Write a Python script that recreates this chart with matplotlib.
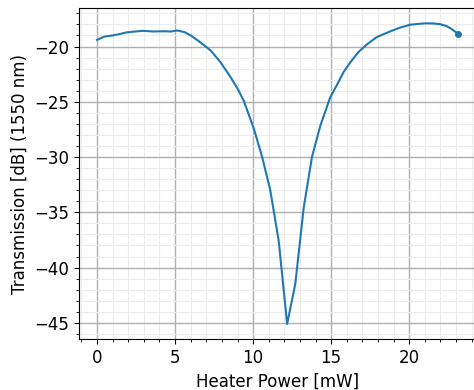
import numpy as np
import matplotlib
matplotlib.use("Agg")
import matplotlib.pyplot as plt
from matplotlib.ticker import AutoMinorLocator

# heater sweep
power = [0.0, 0.47, 1.0, 1.53, 1.85, 2.4, 2.9, 3.6, 4.3, 4.73, 5.15,
         5.6, 6.0, 6.6, 7.28, 7.9, 8.56, 9.0, 9.4, 10.05, 10.58, 11.1, 11.64,
         12.18, 12.7, 13.24, 13.77, 14.3, 14.94, 15.4, 15.8, 16.3, 16.75,
         17.3, 17.92, 18.77, 19.4, 20.05, 20.7, 21.1, 21.6, 21.97, 22.4, 22.7, 23.14]
trans = [-19.4, -19.1, -19.0, -18.85, -18.73, -18.65, -18.58, -18.64, -18.62, -18.64, -18.55,
         -18.7, -19.0, -19.6, -20.36, -21.4, -22.78, -23.8, -24.9, -27.45, -30.0, -33.0, -37.6,
         -45.1, -41.5, -34.6, -30.0, -27.2, -24.6, -23.4, -22.3, -21.3, -20.5,
         -19.8, -19.15, -18.64, -18.3, -18.03, -17.94, -17.9, -17.92, -17.98, -18.15, -18.4, -18.85]

plt.rcParams['font.size'] = 12
fig = plt.figure(figsize=(4.74, 3.9), dpi=100)
ax = fig.add_axes([0.1667, 0.1308, 0.838, 0.848])

ax.plot(power, trans, color='tab:blue', lw=1.5)
ax.plot(power[-1], trans[-1], 'o', color='tab:blue', ms=4)

ax.set_xlabel("Heater Power [mW]")
ax.set_ylabel("Transmission [dB] (1550 nm)")
ax.xaxis.set_minor_locator(AutoMinorLocator())
ax.yaxis.set_minor_locator(AutoMinorLocator())
ax.grid(which='major', color='#b0b0b0', lw=1)
ax.grid(which='minor', color='#ececec', lw=0.8)
ax.set_axisbelow(True)

fig.savefig("out.png", dpi=100)
